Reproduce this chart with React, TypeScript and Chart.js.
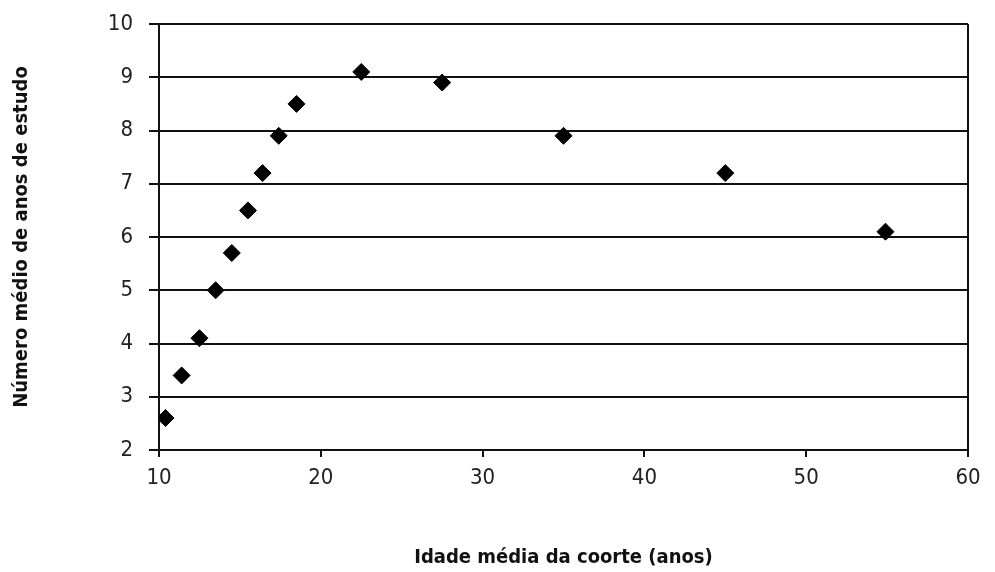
import React, { useEffect, useRef } from "react";
import { Chart, registerables } from "chart.js";

Chart.register(...registerables);

const idadeMedia = [10.4, 11.4, 12.5, 13.5, 14.5, 15.5, 16.4, 17.4, 18.5, 22.5, 27.5, 35, 45, 54.9];
const anosEstudo = [2.6, 3.4, 4.1, 5.0, 5.7, 6.5, 7.2, 7.9, 8.5, 9.1, 8.9, 7.9, 7.2, 6.1];
const xTitulo = "Idade média da coorte (anos)";
const yTitulo = "Número médio de anos de estudo";

const FONT = "'DejaVu Sans Condensed', 'Liberation Sans', sans-serif";

export default function App() {
  const ref = useRef<HTMLCanvasElement | null>(null);
  useEffect(() => {
    if (!ref.current) return;
    const chart = new Chart(ref.current, {
      type: "scatter",
      data: {
        datasets: [
          {
            data: idadeMedia.map((x, i) => ({ x, y: anosEstudo[i] })),
            pointStyle: "rectRot",
            pointRadius: 8.5,
            pointBackgroundColor: "#000",
            pointBorderColor: "#000",
            pointBorderWidth: 1,
            showLine: false,
          },
        ],
      },
      options: {
        animation: false,
        responsive: false,
        maintainAspectRatio: false,
        layout: { padding: { left: 0, right: 27, top: 24, bottom: 0 } },
        plugins: { legend: { display: false }, tooltip: { enabled: false } },
        scales: {
          x: {
            type: "linear",
            min: 10,
            max: 60,
            afterFit: (s: any) => {
              s.height = 122;
            },
            ticks: {
              stepSize: 10,
              padding: 8,
              color: "#222",
              font: { family: FONT, size: 22 },
            },
            grid: {
              color: (c: any) => (c.tick && c.tick.value === 60 ? "#111" : "rgba(0,0,0,0)"),
              tickColor: "#111",
              lineWidth: 2,
              tickLength: 7,
            },
            border: { color: "#111", width: 2 },
            title: {
              display: true,
              text: xTitulo,
              color: "#111",
              padding: 2,
              font: { family: FONT, size: 20, weight: "bold" },
            },
          },
          y: {
            type: "linear",
            min: 2,
            max: 10,
            afterFit: (s: any) => {
              s.width = 159;
            },
            ticks: {
              stepSize: 1,
              padding: 16,
              color: "#222",
              font: { family: FONT, size: 22, lineHeight: 0.5 },
            },
            grid: {
              color: "#111",
              tickColor: "#111",
              lineWidth: 2,
              tickLength: 10,
            },
            border: { color: "#111", width: 2 },
            title: {
              display: true,
              text: yTitulo,
              color: "#111",
              padding: { top: 10, bottom: 0 },
              font: { family: FONT, size: 20, weight: "bold" },
            },
          },
        },
      },
    });
    return () => chart.destroy();
  }, []);
  return (
    <div style={{ position: "absolute", left: 0, top: 0, width: 995, height: 572, background: "#fff" }}>
      <canvas ref={ref} width={995} height={572} style={{ width: 995, height: 572 }} />
    </div>
  );
}
